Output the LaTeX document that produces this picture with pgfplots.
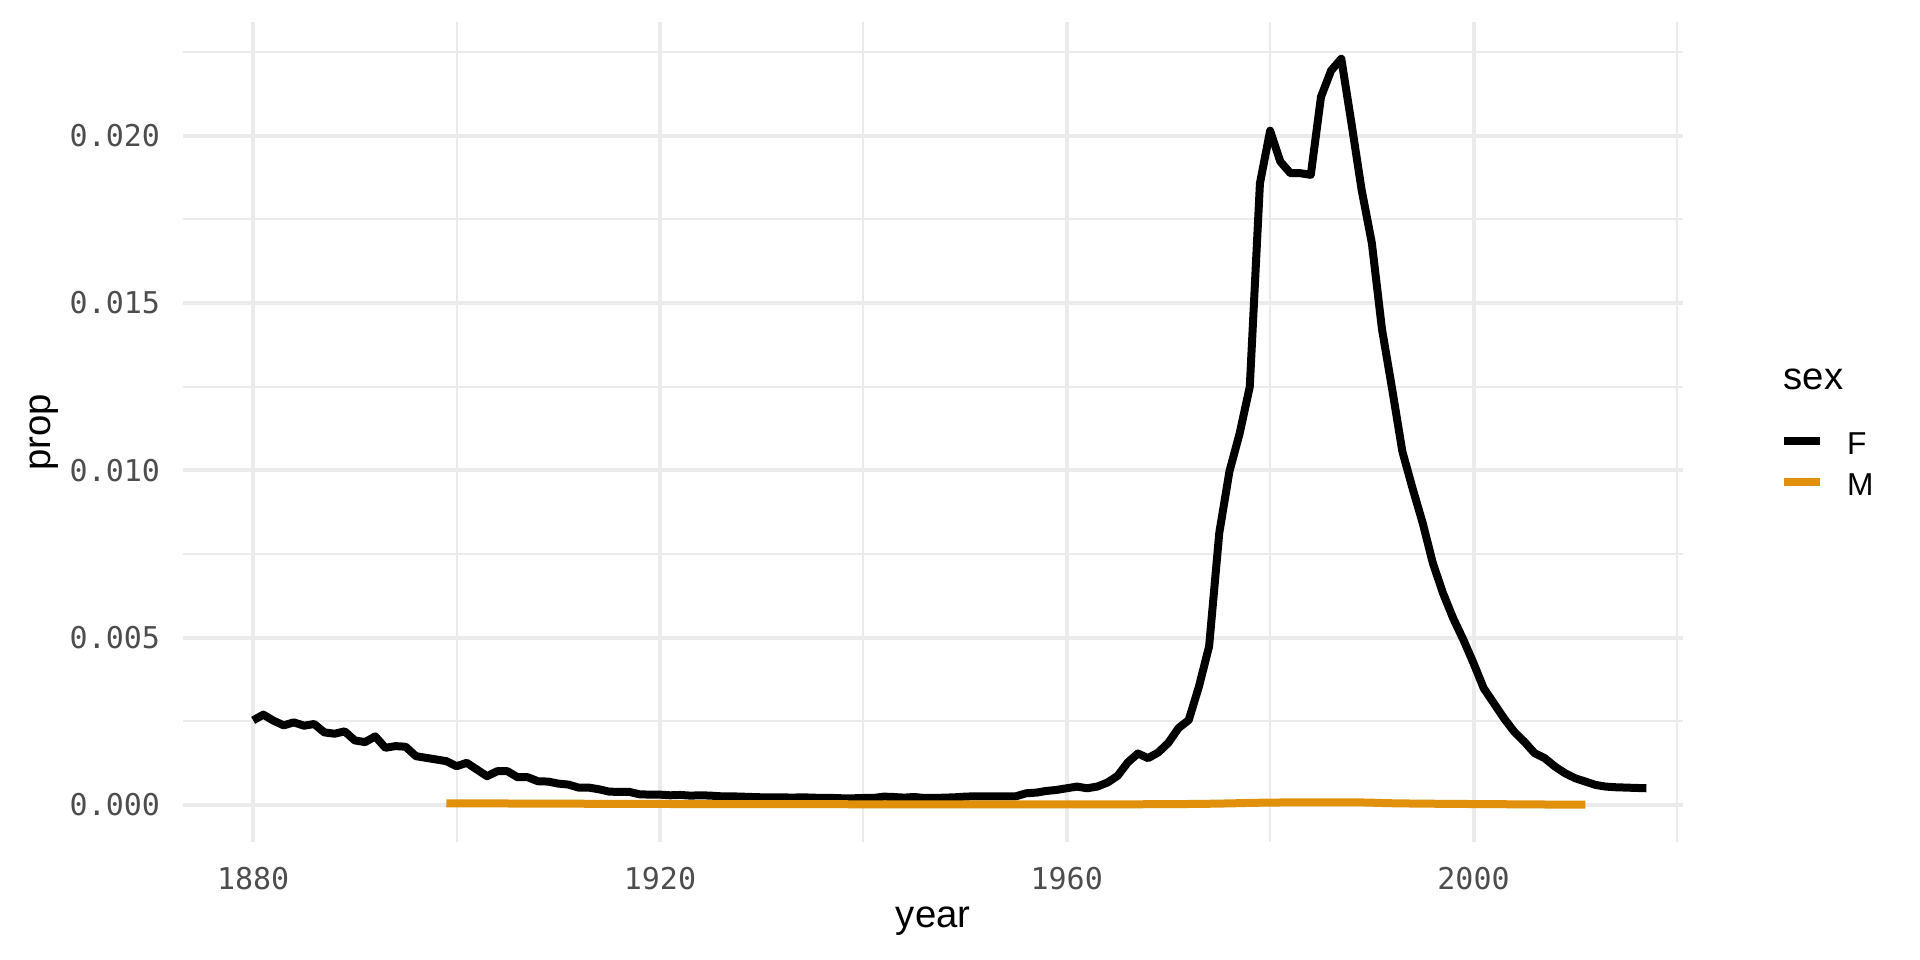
\documentclass[border=0pt]{standalone}
\usepackage{fontspec}
\setmainfont{Liberation Sans}
\newfontfamily\tickfont{DejaVu Sans Mono}
\usepackage{pgfplots}
\usepackage{pgfplotstable}
\pgfplotsset{compat=1.18}
\definecolor{gridc}{HTML}{EBEBEB}
\definecolor{mcol}{RGB}{224,144,10}
\definecolor{tickc}{HTML}{4D4D4D}

\pgfplotstableread{
year prop
1880 0.00253
1881 0.00270
1882 0.00252
1883 0.00238
1884 0.00247
1885 0.00237
1886 0.00242
1887 0.00217
1888 0.00213
1889 0.00220
1890 0.00193
1891 0.00188
1892 0.00205
1893 0.00171
1894 0.00176
1895 0.00174
1896 0.00146
1897 0.00141
1898 0.00136
1899 0.00131
1900 0.00116
1901 0.00126
1902 0.00106
1903 0.00086
1904 0.00101
1905 0.00101
1906 0.00083
1907 0.00083
1908 0.00071
1909 0.00070
1910 0.00064
1911 0.00061
1912 0.00052
1913 0.00052
1914 0.00047
1915 0.00040
1916 0.00039
1917 0.00039
1918 0.00032
1919 0.00031
1920 0.00031
1921 0.00029
1922 0.00030
1923 0.00028
1924 0.00029
1925 0.00028
1926 0.00026
1927 0.00026
1928 0.00025
1929 0.00024
1930 0.00023
1931 0.00023
1932 0.00023
1933 0.00022
1934 0.00023
1935 0.00022
1936 0.00021
1937 0.00021
1938 0.00020
1939 0.00020
1940 0.00021
1941 0.00021
1942 0.00025
1943 0.00024
1944 0.00022
1945 0.00024
1946 0.00021
1947 0.00021
1948 0.00022
1949 0.00023
1950 0.00025
1951 0.00026
1952 0.00026
1953 0.00026
1954 0.00026
1955 0.00026
1956 0.00035
1957 0.00037
1958 0.00042
1959 0.00045
1960 0.00050
1961 0.00055
1962 0.00050
1963 0.00055
1964 0.00067
1965 0.00087
1966 0.00127
1967 0.00154
1968 0.00140
1969 0.00157
1970 0.00186
1971 0.00230
1972 0.00254
1973 0.00354
1974 0.00474
1975 0.00813
1976 0.00997
1977 0.01110
1978 0.01250
1979 0.01858
1980 0.02015
1981 0.01923
1982 0.01888
1983 0.01888
1984 0.01883
1985 0.02116
1986 0.02195
1987 0.02230
1988 0.02037
1989 0.01838
1990 0.01680
1991 0.01422
1992 0.01243
1993 0.01057
1994 0.00947
1995 0.00843
1996 0.00723
1997 0.00633
1998 0.00558
1999 0.00494
2000 0.00424
2001 0.00349
2002 0.00304
2003 0.00259
2004 0.00219
2005 0.00189
2006 0.00155
2007 0.00140
2008 0.00115
2009 0.00095
2010 0.00080
2011 0.00070
2012 0.00060
2013 0.00055
2014 0.00053
2015 0.00052
2016 0.00051
2017 0.00050
}\femaletable

\pgfplotstableread{
year prop
1899 0.000050
1900 0.000050
1901 0.000049
1902 0.000048
1903 0.000047
1904 0.000046
1905 0.000045
1906 0.000044
1907 0.000043
1908 0.000042
1909 0.000041
1910 0.000040
1911 0.000039
1912 0.000038
1913 0.000037
1914 0.000036
1915 0.000035
1916 0.000034
1917 0.000033
1918 0.000032
1919 0.000031
1920 0.000030
1921 0.000030
1922 0.000029
1923 0.000029
1924 0.000028
1925 0.000028
1926 0.000027
1927 0.000027
1928 0.000026
1929 0.000026
1930 0.000025
1931 0.000025
1932 0.000025
1933 0.000024
1934 0.000024
1935 0.000024
1936 0.000023
1937 0.000023
1938 0.000023
1939 0.000022
1940 0.000022
1941 0.000022
1942 0.000022
1943 0.000021
1944 0.000021
1945 0.000021
1946 0.000021
1947 0.000020
1948 0.000020
1949 0.000020
1950 0.000020
1951 0.000020
1952 0.000020
1953 0.000020
1954 0.000020
1955 0.000020
1956 0.000020
1957 0.000020
1958 0.000020
1959 0.000020
1960 0.000020
1961 0.000020
1962 0.000020
1963 0.000020
1964 0.000020
1965 0.000020
1966 0.000021
1967 0.000022
1968 0.000023
1969 0.000024
1970 0.000025
1971 0.000027
1972 0.000030
1973 0.000033
1974 0.000037
1975 0.000042
1976 0.000048
1977 0.000055
1978 0.000062
1979 0.000068
1980 0.000072
1981 0.000075
1982 0.000077
1983 0.000079
1984 0.000080
1985 0.000082
1986 0.000082
1987 0.000080
1988 0.000078
1989 0.000076
1990 0.000070
1991 0.000060
1992 0.000052
1993 0.000047
1994 0.000044
1995 0.000041
1996 0.000038
1997 0.000035
1998 0.000033
1999 0.000031
2000 0.000029
2001 0.000027
2002 0.000025
2003 0.000023
2004 0.000021
2005 0.000019
2006 0.000017
2007 0.000015
2008 0.000014
2009 0.000013
2010 0.000012
2011 0.000011
}\maletable

\begin{document}
\begin{tikzpicture}
\useasboundingbox (0,0) rectangle (576pt,288pt);
\begin{axis}[
  at={(55.05pt,35.25pt)}, anchor=south west,
  width=449.85pt, height=246.15pt, scale only axis,
  xmin=1873.15, xmax=2020.6, ymin=-0.00112, ymax=0.0234,
  xtick={1880,1920,1960,2000}, xticklabels={1880,1920,1960,2000},
  minor xtick={1900,1940,1980,2020},
  ytick={0,0.005,0.01,0.015,0.02},
  yticklabels={0.000,0.005,0.010,0.015,0.020},
  minor ytick={0.0025,0.0075,0.0125,0.0175,0.0225},
  scaled y ticks=false, scaled x ticks=false,
  grid=both,
  major grid style={gridc, line width=1.2pt},
  minor grid style={gridc, line width=0.6pt},
  axis line style={draw=none},
  major tick length=0pt, minor tick length=0pt,
  tick label style={font=\fontsize{9}{10}\tickfont, text=tickc, inner sep=0pt},
  xticklabel style={anchor=base, yshift=-14.25pt},
  yticklabel style={anchor=east, xshift=-6.85pt},
  xlabel={year},
  every axis x label/.style={at={(axis description cs:0.5,0)}, anchor=base, yshift=-25.65pt, inner sep=0pt, font=\fontsize{11.5}{13}\selectfont},
  ylabel={prop},
  every axis y label/.style={at={(axis description cs:0,0.5)}, xshift=-41.8pt, rotate=90, anchor=center, inner sep=0pt, font=\fontsize{11.5}{13}\selectfont},
  legend style={at={(axis description cs:1.0647,0.458)}, anchor=west, draw=none, fill=none, inner sep=0pt, outer sep=0pt, row sep=4.2pt, column sep=6.9pt, font=\fontsize{9.5}{10}\selectfont, nodes={inner sep=0pt}, cells={anchor=west}},
  legend image code/.code={\draw[#1] (0pt,1.6pt) -- (10.8pt,1.6pt);},
  clip=true,
]
\addplot[black, line width=2.4pt, line join=round] table[x=year, y=prop] {\femaletable};
\addlegendentry{F}
\addplot[mcol, line width=2.4pt, line join=round] table[x=year, y=prop] {\maletable};
\addlegendentry{M}
\end{axis}
\node[anchor=base west, inner sep=0pt, font=\fontsize{11.5}{13}\selectfont] at (534.9pt,171pt) {sex};
\end{tikzpicture}
\end{document}
